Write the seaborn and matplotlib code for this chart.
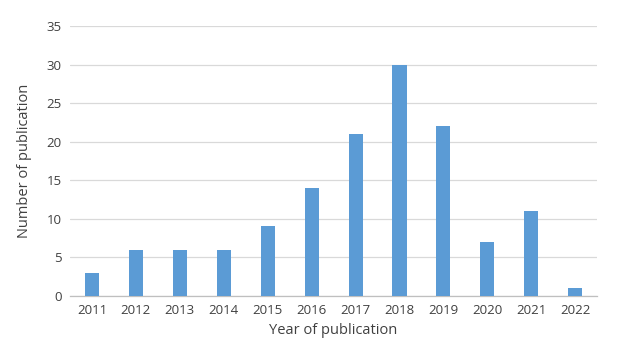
import matplotlib
matplotlib.use("Agg")
import matplotlib.pyplot as plt
import seaborn as sns
import pandas as pd

# -----------------------------
# Data
# -----------------------------
years = ["2011", "2012", "2013", "2014", "2015", "2016",
         "2017", "2018", "2019", "2020", "2021", "2022"]
counts = [3, 6, 6, 6, 9, 14, 21, 30, 22, 7, 11, 1]
y_ticks = [0, 5, 10, 15, 20, 25, 30, 35]

df = pd.DataFrame({"year": years, "count": counts})

# -----------------------------
# Style
# -----------------------------
sns.set_style("white")
plt.rcParams["font.family"] = ["Open Sans", "DejaVu Sans"]

fig = plt.figure(figsize=(6.3, 3.63), dpi=100)
ax = fig.add_axes([0.111, 0.185, 0.837, 0.743])

sns.barplot(x="year", y="count", data=df, color="#5B9BD5",
            width=0.32, saturation=1, linewidth=0, ax=ax, zorder=3)

ax.set_ylim(0, 35)
ax.set_yticks(y_ticks)
ax.yaxis.grid(True, color="#D9D9D9", linewidth=0.9, zorder=0)
ax.set_axisbelow(True)

for s in ["top", "right", "left"]:
    ax.spines[s].set_visible(False)
ax.spines["bottom"].set_color("#BFBFBF")
ax.spines["bottom"].set_linewidth(0.9)

ax.tick_params(axis="both", length=0, labelsize=9.5, labelcolor="#404040", pad=6)
ax.set_xlabel("Year of publication", fontsize=10.5, color="#404040", labelpad=4)
ax.set_ylabel("Number of publication", fontsize=10.5, color="#404040", labelpad=10)

fig.savefig("out.png", dpi=100)
plt.close(fig)
